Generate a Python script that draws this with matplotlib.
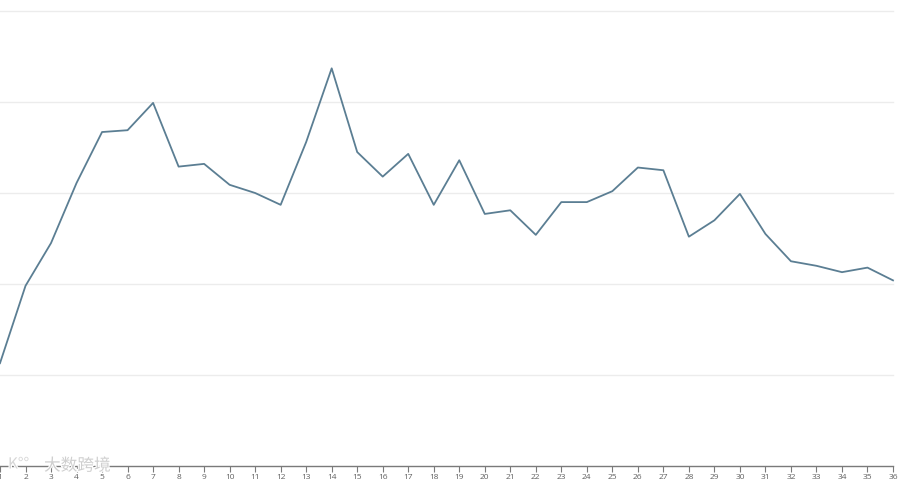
import matplotlib
matplotlib.use("Agg")
import matplotlib.pyplot as plt
import matplotlib.patheffects as pe

plt.rcParams['font.family'] = ['Noto Sans CJK SC', 'DejaVu Sans']

weeks = list(range(1, 37))
labels = [str(w) for w in weeks]
values = [1.13, 1.98, 2.45, 3.11, 3.67, 3.69, 3.99, 3.29, 3.32, 3.09,
          3.00, 2.87, 3.56, 4.37, 3.45, 3.18, 3.43, 2.87, 3.36, 2.77,
          2.81, 2.54, 2.90, 2.90, 3.02, 3.28, 3.25, 2.52, 2.70, 2.99,
          2.55, 2.25, 2.20, 2.13, 2.18, 2.04]
yticks = [0, 1, 2, 3, 4, 5]

fig = plt.figure(figsize=(9, 4.83), dpi=100)
ax = fig.add_axes([0.0, 17 / 483, 893 / 900, 455 / 483])
ax.set_xlim(1, 36)
ax.set_ylim(0, 5)

for t in yticks[1:]:
    ax.axhline(t, color='#ececec', linewidth=1.0, zorder=0, clip_on=False)

ax.plot(weeks, values, color='#5b7e93', linewidth=1.3, clip_on=False, zorder=3)

for s in ['top', 'right', 'left']:
    ax.spines[s].set_visible(False)
ax.spines['bottom'].set_color('#7a7a7a')
ax.spines['bottom'].set_linewidth(1.0)
ax.set_yticks([])
ax.set_xticks(weeks)
ax.set_xticklabels(labels, family=['Open Sans', 'DejaVu Sans'])
ax.tick_params(axis='x', length=4, width=0.8, color='#7a7a7a',
               labelsize=6, labelcolor='#606060', pad=2)

fig.text(44 / 900, 1 - 466 / 483, '大数跨境', fontsize=12, color='#cfcfcf',
         va='center', ha='left', zorder=5,
         path_effects=[pe.withStroke(linewidth=1.5, foreground='white')])
fig.text(8 / 900, 1 - 464 / 483, 'K°°', fontsize=11, color='#d6d6d6',
         va='center', ha='left', zorder=5,
         path_effects=[pe.withStroke(linewidth=1.5, foreground='white')])

fig.savefig('out.png', dpi=100, facecolor='white')
